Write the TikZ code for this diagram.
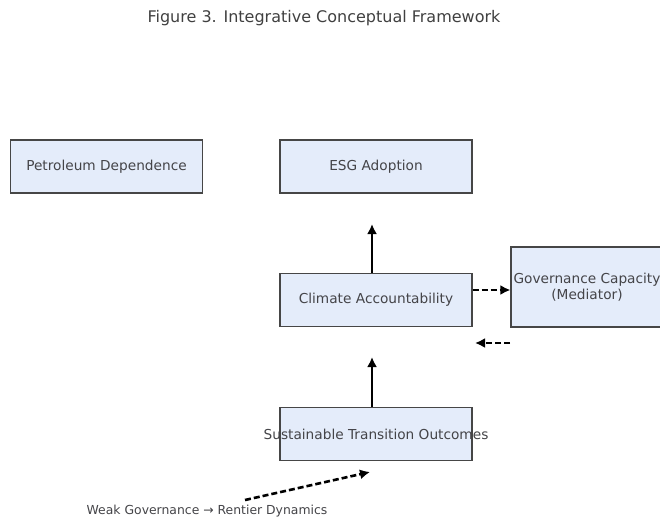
\documentclass[tikz,border=0pt]{standalone}
\usepackage{fontspec}
\setmainfont{DejaVu Sans}
\usetikzlibrary{arrows.meta}
\definecolor{boxfill}{RGB}{228,236,250}
\definecolor{boxline}{RGB}{70,70,70}
\definecolor{txtgray}{RGB}{68,68,72}

\begin{document}
\begin{tikzpicture}[
  x=1pt,y=-1pt,
  txt/.style={font=\fontsize{13.7}{16.5}\selectfont,text=txtgray,align=center},
  box/.style={draw=boxline,line width=1.2pt,fill=boxfill,minimum width=192pt,
              minimum height=53pt,inner sep=0pt,label={[txt]center:#1}},
  arr/.style={-{Latex[length=10pt,width=10pt]},line width=2.6pt,black},
  darr/.style={arr,dash pattern=on 6pt off 3pt}
]
  \useasboundingbox (0,0) rectangle (660,519);
  \clip (0,0) rectangle (660,519);

  \node[font=\fontsize{16}{19}\selectfont,text=black!75] (title) at (324,18)
    {Figure 3. Integrative Conceptual Framework};

  \node[box={Petroleum Dependence}] (petro) at (106.5,166.5) {};
  \node[box={ESG Adoption}]         (esg)   at (376,166.5) {};
  \node[box={Climate Accountability}] (clim) at (376,300) {};
  \node[box={Governance Capacity\\(Mediator)},minimum width=152pt,
        minimum height=80pt] (gov) at (587,287) {};
  \node[box={Sustainable Transition Outcomes}] (sust) at (376,434) {};

  \coordinate (esgin)  at (372,224);
  \coordinate (climin) at (372,357);
  \coordinate (sustin) at (370,472);
  \coordinate (weak)   at (245,500);
  \coordinate (govout) at (510,343);
  \coordinate (climback) at (475,343);

  \draw[arr] (clim.north -| esgin) -- (esgin);
  \draw[arr] (sust.north -| climin) -- (climin);
  \draw[darr] (clim.east |- 0,290) -- (gov.west |- 0,290);
  \draw[darr] (govout) -- (climback);
  \draw[darr] (weak) -- (sustin);

  \node[font=\fontsize{12.4}{15}\selectfont,text=txtgray] (rent) at (207,511)
    {Weak Governance → Rentier Dynamics};
\end{tikzpicture}
\end{document}
